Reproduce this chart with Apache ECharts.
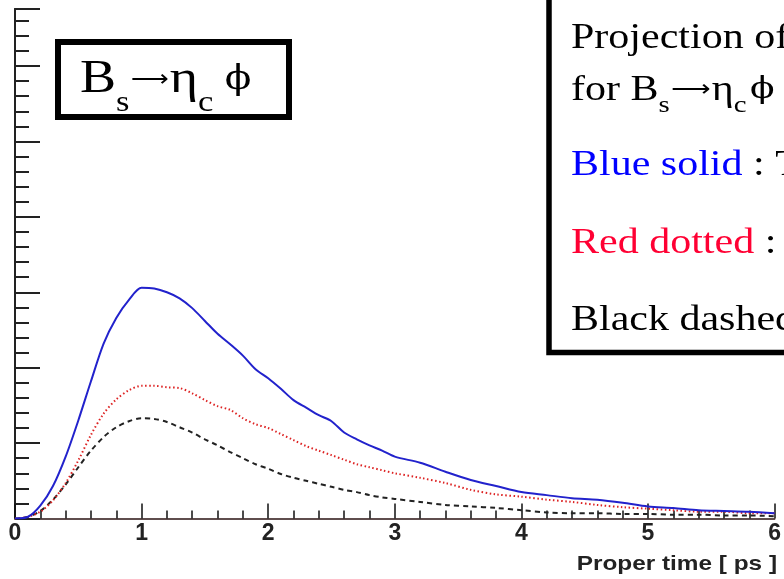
<!DOCTYPE html>
<html><head><meta charset="utf-8">
<script src="https://cdn.jsdelivr.net/npm/echarts@6/dist/echarts.min.js"></script>
<style>html,body{margin:0;padding:0;background:#fff}#c{width:784px;height:579px}</style>
</head><body><div id="c"></div>
<script>
// Proper time [ps]
const times = [0,0.1,0.2,0.3,0.4,0.5,0.6,0.7,0.8,0.9,1.0,1.1,1.2,1.3,1.4,1.5,1.6,1.7,1.8,1.9,2.0,2.1,2.2,2.3,2.4,2.5,2.6,2.7,2.8,2.9,3.0,3.2,3.4,3.6,3.8,4.0,4.2,4.4,4.6,4.8,5.0,5.2,5.4,5.6,5.8,6.0];
// Blue solid
const blueSolid = [0,0.02,0.17,0.43,0.82,1.30,1.82,2.32,2.66,2.90,3.06,3.05,3.00,2.92,2.79,2.62,2.45,2.31,2.16,1.98,1.86,1.72,1.57,1.47,1.37,1.29,1.14,1.05,0.97,0.90,0.82,0.74,0.62,0.51,0.43,0.35,0.31,0.27,0.25,0.21,0.16,0.14,0.11,0.10,0.09,0.07];
// Red dotted
const redDotted = [0,0.02,0.09,0.24,0.47,0.77,1.11,1.39,1.58,1.70,1.76,1.76,1.74,1.73,1.66,1.57,1.49,1.44,1.33,1.25,1.20,1.12,1.04,0.96,0.90,0.84,0.78,0.72,0.68,0.64,0.60,0.54,0.47,0.38,0.32,0.29,0.25,0.22,0.18,0.15,0.13,0.11,0.09,0.09,0.07,0.07];
// Black dashed
const blackDashed = [0,0.02,0.10,0.25,0.45,0.68,0.90,1.08,1.21,1.29,1.33,1.32,1.28,1.21,1.14,1.05,0.97,0.88,0.80,0.72,0.66,0.59,0.54,0.50,0.46,0.42,0.38,0.35,0.31,0.28,0.26,0.22,0.18,0.16,0.14,0.11,0.08,0.07,0.07,0.06,0.06,0.05,0.05,0.04,0.04,0.03];
const xTickLabels = ['0','1','2','3','4','5','6'];
const xMin = 0, xMax = 6, yMin = 0, yMax = 6.757;
const xAxisName = 'Proper time [ ps ]';
const legendLines = ['Projection of proper time', 'for ', 'Blue solid', ' : Total', 'Red dotted', ' : Signal', 'Black dashed : Background'];

const pairs = arr => times.map((t, i) => [t, arr[i]]);
const serif = '"Liberation Serif", "Times New Roman", serif';
const sans = '"Liberation Sans", Arial, sans-serif';

function formula(prefix, main, sub, arrow, phi, lh, phiPad) {
  return {
    text: (prefix ? '{m|' + prefix + '}' : '') + '{m|B}{s|s}{a|⟶}{m|η}{s|c}{p|ϕ}',
    verticalAlign: 'top',
    rich: {
      m: {fontFamily: serif, fontSize: main, lineHeight: lh, verticalAlign: 'middle', fill: '#000'},
      a: {fontFamily: '"DejaVu Sans"', fontSize: arrow, lineHeight: lh, verticalAlign: 'middle', fill: '#000', padding: [0, 1, 0, 1]},
      p: {fontFamily: '"DejaVu Serif"', fontSize: phi, lineHeight: lh, verticalAlign: 'middle', fill: '#000', padding: [0, 0, 0, phiPad]},
      s: {fontFamily: serif, fontSize: sub, lineHeight: sub, verticalAlign: 'bottom', fill: '#000'}
    }
  };
}
function line(x, y, sx, style) {
  return {type: 'text', z: 101, x: x, y: y, scaleX: sx, scaleY: 1, style: style};
}

const chart = echarts.init(document.getElementById('c'), null, {renderer: 'canvas'});
chart.setOption({
  animation: false,
  backgroundColor: '#fff',
  grid: {left: 15, right: 9, top: 9, bottom: 60.5, containLabel: false},
  xAxis: [{
    type: 'value', min: xMin, max: xMax, interval: 1,
    axisLine: {show: true, onZero: false, lineStyle: {color: '#e08080', width: 1.5}},
    axisTick: {show: true, inside: true, length: 15, lineStyle: {color: '#111', width: 1.5}},
    minorTick: {show: true, splitNumber: 5, length: 8, lineStyle: {color: '#111', width: 1.5}},
    axisLabel: {show: true, margin: 4, fontSize: 23, fontWeight: 'bold', fontFamily: sans, color: '#222',
      formatter: v => xTickLabels[Math.round(v)] || ''},
    splitLine: {show: false}
  }, {
    type: 'value', position: 'top', min: xMin, max: xMax,
    axisLine: {show: true, lineStyle: {color: '#333', width: 1.5}},
    axisTick: {show: false}, axisLabel: {show: false}, splitLine: {show: false}
  }],
  yAxis: [{
    type: 'value', min: yMin, max: yMax, interval: 1,
    axisLine: {show: true, onZero: false, lineStyle: {color: '#111', width: 2}},
    axisTick: {show: true, inside: true, length: 25, lineStyle: {color: '#222', width: 2}},
    axisLabel: {show: false}, splitLine: {show: false}
  }, {
    type: 'value', min: yMin, max: yMax, interval: 0.2, position: 'left',
    axisLine: {show: false},
    axisTick: {show: true, inside: true, length: 14, lineStyle: {color: '#222', width: 2}},
    axisLabel: {show: false}, splitLine: {show: false}
  }, {
    type: 'value', min: yMin, max: yMax, position: 'right',
    axisLine: {show: true, lineStyle: {color: '#222', width: 2}},
    axisTick: {show: false}, axisLabel: {show: false}, splitLine: {show: false}
  }],
  series: [{
    type: 'line', name: 'Black dashed', data: pairs(blackDashed), smooth: 0.3, symbol: 'none',
    lineStyle: {color: '#222', width: 2, type: [5, 4]}
  }, {
    type: 'line', name: 'Red dotted', data: pairs(redDotted), smooth: 0.3, symbol: 'none',
    lineStyle: {color: '#dd2222', width: 2, type: [1.5, 2.5]}
  }, {
    type: 'line', name: 'Blue solid', data: pairs(blueSolid), smooth: 0.3, symbol: 'none',
    lineStyle: {color: '#2222cc', width: 2}
  }],
  graphic: [
    // title box
    {type: 'rect', z: 100, shape: {x: 58, y: 42, width: 231, height: 75},
      style: {fill: '#fff', stroke: '#000', lineWidth: 6}},
    line(80, 42, 1.15, formula('', 47, 30, 23, 34, 76, 10)),
    // legend box
    {type: 'rect', z: 100, shape: {x: 549, y: -20, width: 300, height: 372.5},
      style: {fill: '#fff', stroke: '#000', lineWidth: 5.5}},
    line(571, 21, 1.2, {text: legendLines[0], fontFamily: serif, fontSize: 35, lineHeight: 35, fill: '#000', verticalAlign: 'top'}),
    line(571, 63, 1.2, formula(legendLines[1], 35, 24, 23, 30, 55, 3)),
    line(571, 148, 1.2, {text: '{c|' + legendLines[2] + '}{k|' + legendLines[3] + '}', verticalAlign: 'top', rich: {
        c: {fontFamily: serif, fontSize: 35, lineHeight: 35, fill: '#0000ff'},
        k: {fontFamily: serif, fontSize: 35, lineHeight: 35, fill: '#000'}
      }}),
    line(571, 226, 1.2, {text: '{c|' + legendLines[4] + '}{k|' + legendLines[5] + '}', verticalAlign: 'top', rich: {
        c: {fontFamily: serif, fontSize: 35, lineHeight: 35, fill: '#ff0033'},
        k: {fontFamily: serif, fontSize: 35, lineHeight: 35, fill: '#000'}
      }}),
    line(571, 303, 1.2, {text: legendLines[6], fontFamily: serif, fontSize: 35, lineHeight: 35, fill: '#000', verticalAlign: 'top'}),
    // axis title
    line(777, 554, 1.16, {text: xAxisName, fontFamily: sans, fontSize: 21, fontWeight: 'bold', fill: '#222', align: 'right', verticalAlign: 'top'})
  ]
});
</script></body></html>
